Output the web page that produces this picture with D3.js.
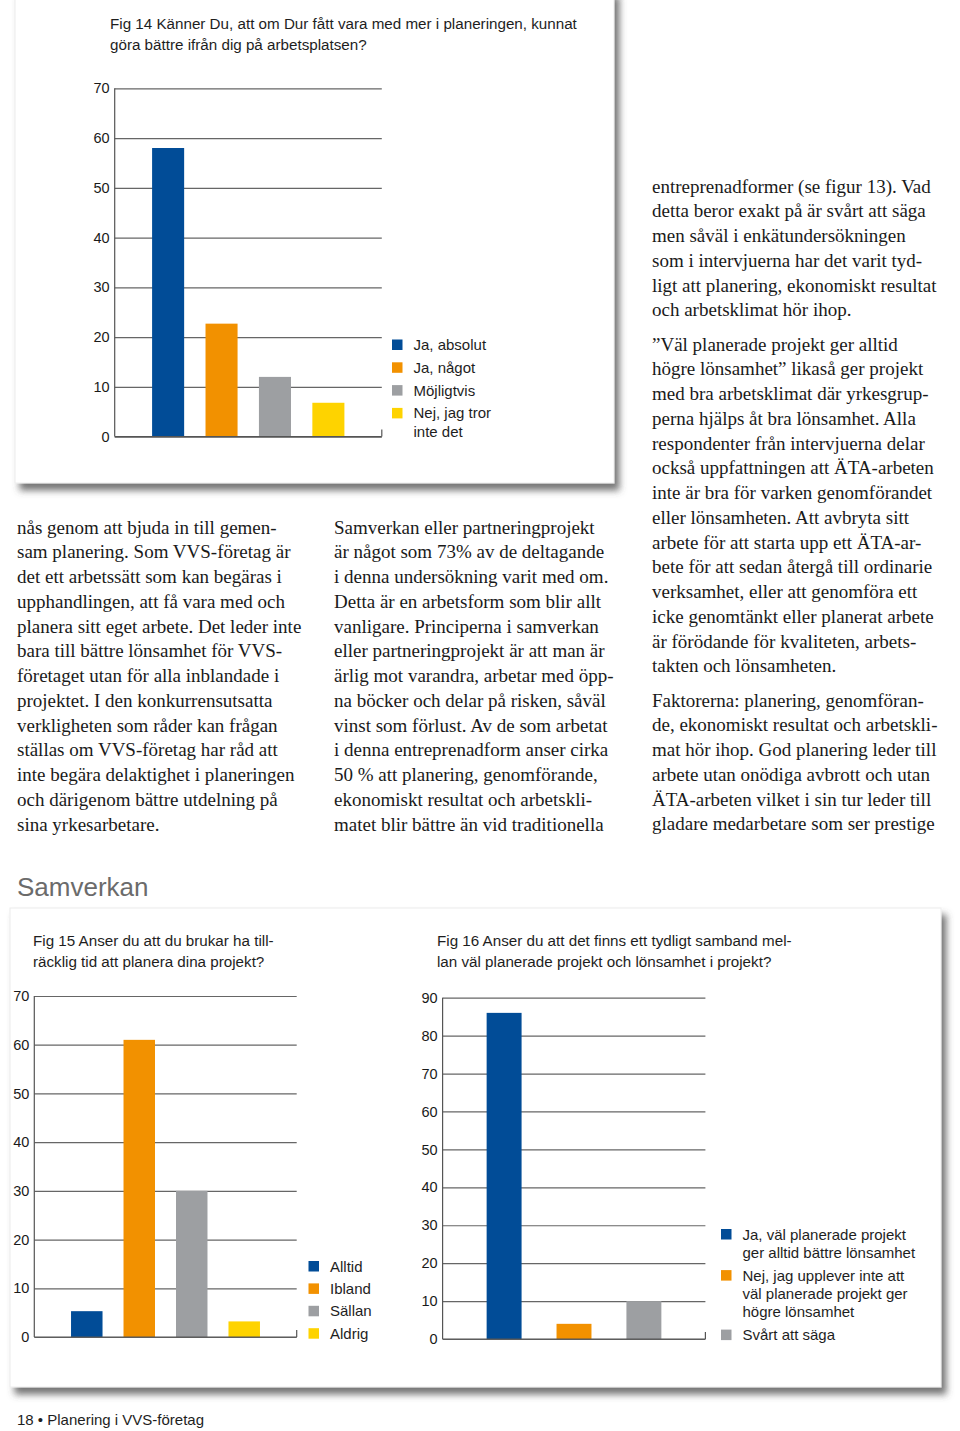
<!DOCTYPE html>
<html><head><meta charset="utf-8">
<script src="https://cdn.jsdelivr.net/npm/d3@7"></script>
<style>body{margin:0;background:#fff}svg{display:block}</style>
</head><body><svg id="page" width="960" height="1431"></svg>
<script>
// ---------- DATA ----------
const colors = ["#014c97", "#f29100", "#9d9fa2", "#fed300"];

const fig14Title = ["Fig 14 Känner Du, att om Dur fått vara med mer i planeringen, kunnat", "göra bättre ifrån dig på arbetsplatsen?"];
const fig14Categories = ["Ja, absolut", "Ja, något", "Möjligtvis", "Nej, jag tror inte det"];
const fig14Values = [58, 22.7, 12, 6.8];
const fig14Ticks = [0, 10, 20, 30, 40, 50, 60, 70];
const fig14Legend = [["Ja, absolut"], ["Ja, något"], ["Möjligtvis"], ["Nej, jag tror", "inte det"]];

const fig15Title = ["Fig 15 Anser du att du brukar ha till-", "räcklig tid att planera dina projekt?"];
const fig15Categories = ["Alltid", "Ibland", "Sällan", "Aldrig"];
const fig15Values = [5.3, 61, 30, 3.2];
const fig15Ticks = [0, 10, 20, 30, 40, 50, 60, 70];
const fig15Legend = [["Alltid"], ["Ibland"], ["Sällan"], ["Aldrig"]];

const fig16Title = ["Fig 16 Anser du att det finns ett tydligt samband mel-", "lan väl planerade projekt och lönsamhet i projekt?"];
const fig16Categories = ["Ja, väl planerade projekt ger alltid bättre lönsamhet", "Nej, jag upplever inte att väl planerade projekt ger högre lönsamhet", "Svårt att säga"];
const fig16Values = [86, 4, 10];
const fig16Ticks = [0, 10, 20, 30, 40, 50, 60, 70, 80, 90];
const fig16Legend = [["Ja, väl planerade projekt", "ger alltid bättre lönsamhet"], ["Nej, jag upplever inte att", "väl planerade projekt ger", "högre lönsamhet"], ["Svårt att säga"]];

const column1 = [[
 "nås genom att bjuda in till gemen-",
 "sam planering. Som VVS-företag är",
 "det ett arbetssätt som kan begäras i",
 "upphandlingen, att få vara med och",
 "planera sitt eget arbete. Det leder inte",
 "bara till bättre lönsamhet för VVS-",
 "företaget utan för alla inblandade i",
 "projektet. I den konkurrensutsatta",
 "verkligheten som råder kan frågan",
 "ställas om VVS-företag har råd att",
 "inte begära delaktighet i planeringen",
 "och därigenom bättre utdelning på",
 "sina yrkesarbetare."]];
const column2 = [[
 "Samverkan eller partneringprojekt",
 "är något som 73% av de deltagande",
 "i denna undersökning varit med om.",
 "Detta är en arbetsform som blir allt",
 "vanligare. Principerna i samverkan",
 "eller partneringprojekt är att man är",
 "ärlig mot varandra, arbetar med öpp-",
 "na böcker och delar på risken, såväl",
 "vinst som förlust. Av de som arbetat",
 "i denna entreprenadform anser cirka",
 "50 % att planering, genomförande,",
 "ekonomiskt resultat och arbetskli-",
 "matet blir bättre än vid traditionella"]];
const column3 = [[
 "entreprenadformer (se figur 13). Vad",
 "detta beror exakt på är svårt att säga",
 "men såväl i enkätundersökningen",
 "som i intervjuerna har det varit tyd-",
 "ligt att planering, ekonomiskt resultat",
 "och arbetsklimat hör ihop."],[
 "\u201DVäl planerade projekt ger alltid",
 "högre lönsamhet\u201D likaså ger projekt",
 "med bra arbetsklimat där yrkesgrup-",
 "perna hjälps åt bra lönsamhet. Alla",
 "respondenter från intervjuerna delar",
 "också uppfattningen att ÄTA-arbeten",
 "inte är bra för varken genomförandet",
 "eller lönsamheten. Att avbryta sitt",
 "arbete för att starta upp ett ÄTA-ar-",
 "bete för att sedan återgå till ordinarie",
 "verksamhet, eller att genomföra ett",
 "icke genomtänkt eller planerat arbete",
 "är förödande för kvaliteten, arbets-",
 "takten och lönsamheten."],[
 "Faktorerna: planering, genomföran-",
 "de, ekonomiskt resultat och arbetskli-",
 "mat hör ihop. God planering leder till",
 "arbete utan onödiga avbrott och utan",
 "ÄTA-arbeten vilket i sin tur leder till",
 "gladare medarbetare som ser prestige"]];

const sectionHeading = "Samverkan";
const footerText = "18 \u2022 Planering i VVS-företag";

// ---------- DRAW ----------
const svg = d3.select("#page");
const sans = "'Liberation Sans', Arial, sans-serif";
const serif = "'Liberation Serif', 'Times New Roman', serif";

const defs = svg.append("defs");
const f = defs.append("filter").attr("id", "shadow").attr("x", "-5%").attr("y", "-5%").attr("width", "115%").attr("height", "115%");
f.append("feDropShadow").attr("dx", 5).attr("dy", 7).attr("stdDeviation", 3.6)
  .attr("flood-color", "#4a4a4a").attr("flood-opacity", 0.75);

// panels
svg.append("rect").attr("x", 15).attr("y", -10).attr("width", 599).attr("height", 493)
  .attr("fill", "#fff").attr("stroke", "#ececec").attr("filter", "url(#shadow)");
svg.append("rect").attr("x", 10).attr("y", 908).attr("width", 931).attr("height", 479)
  .attr("fill", "#fff").attr("stroke", "#ececec").attr("filter", "url(#shadow)");

function drawChart(cfg) {
  const g = svg.append("g");
  // title
  cfg.title.forEach((t, i) => {
    g.append("text").attr("x", cfg.titleX).attr("y", cfg.titleY + i * 21)
      .attr("font-family", sans).attr("font-size", 15.2).attr("fill", "#1e1e1e").text(t);
  });
  const y = d3.scaleLinear().domain([0, cfg.max]).range([cfg.yBottom, cfg.yTop]);
  const x = d3.scaleBand().domain(cfg.categories).range([cfg.x0, cfg.x1])
    .paddingInner(cfg.pi).paddingOuter(cfg.po);
  const axis = d3.axisLeft(y).tickValues(cfg.ticks).tickSize(-(cfg.x1 - cfg.x0)).tickPadding(5).tickFormat(d3.format("d"));
  const ag = g.append("g").attr("transform", `translate(${cfg.x0},0)`).call(axis);
  ag.select(".domain").remove();
  ag.selectAll(".tick line").attr("stroke", "#666").attr("stroke-width", 1.2);
  ag.selectAll(".tick text").attr("font-family", sans).attr("font-size", 14.5).attr("fill", "#1a1a1a");
  // left axis line and right end tick
  g.append("line").attr("x1", cfg.x0).attr("x2", cfg.x0).attr("y1", y(cfg.max)).attr("y2", y(0))
    .attr("stroke", "#555").attr("stroke-width", 1.2);
  g.append("line").attr("x1", cfg.x1).attr("x2", cfg.x1).attr("y1", y(0) - 7).attr("y2", y(0))
    .attr("stroke", "#555").attr("stroke-width", 1.2);
  // bars
  g.selectAll("rect.bar").data(cfg.values).join("rect").attr("class", "bar")
    .attr("x", (d, i) => x(cfg.categories[i])).attr("width", x.bandwidth())
    .attr("y", d => y(d)).attr("height", d => y(0) - y(d))
    .attr("fill", (d, i) => colors[i]);
  // bottom axis line on top
  g.append("line").attr("x1", cfg.x0).attr("x2", cfg.x1).attr("y1", y(0)).attr("y2", y(0))
    .attr("stroke", "#555").attr("stroke-width", 1.2);
  // legend
  let top = cfg.legendTop;
  cfg.legend.forEach((lines, i) => {
    g.append("rect").attr("x", cfg.legendX).attr("y", top).attr("width", 10.5).attr("height", 10.5).attr("fill", colors[i]);
    lines.forEach((t, j) => {
      g.append("text").attr("x", cfg.legendX + 21.5).attr("y", top + 10.5 + j * cfg.lineGap)
        .attr("font-family", sans).attr("font-size", 15).attr("fill", "#1e1e1e").text(t);
    });
    top += (lines.length - 1) * cfg.lineGap + cfg.entryGap;
  });
}

drawChart({title: fig14Title, titleX: 110, titleY: 29, categories: fig14Categories, values: fig14Values,
  ticks: fig14Ticks, max: 70, x0: 114.7, x1: 381.8, yTop: 88.3, yBottom: 436.6, pi: 0.4, po: 0.7,
  legend: fig14Legend, legendX: 392, legendTop: 339.5, entryGap: 22.8, lineGap: 18.5});
drawChart({title: fig15Title, titleX: 33, titleY: 945.5, categories: fig15Categories, values: fig15Values,
  ticks: fig15Ticks, max: 70, x0: 34.3, x1: 296.7, yTop: 996, yBottom: 1337, pi: 0.4, po: 0.7,
  legend: fig15Legend, legendX: 308.5, legendTop: 1261, entryGap: 22.4, lineGap: 18.5});
drawChart({title: fig16Title, titleX: 437, titleY: 945.5, categories: fig16Categories, values: fig16Values,
  ticks: fig16Ticks, max: 90, x0: 442.6, x1: 705.4, yTop: 997.7, yBottom: 1339, pi: 0.5, po: 0.63,
  legend: fig16Legend, legendX: 721, legendTop: 1229, entryGap: 22.7, lineGap: 18.4});

// body text columns
function drawColumn(paras, x, firstBaseline) {
  let yy = firstBaseline;
  paras.forEach((lines, pi) => {
    lines.forEach(t => {
      svg.append("text").attr("x", x).attr("y", yy).attr("font-family", serif)
        .attr("font-size", 19).attr("fill", "#1a1a1a").text(t);
      yy += 24.75;
    });
    yy += 9.6;
  });
}
drawColumn(column1, 17, 533.5);
drawColumn(column2, 334, 533.5);
drawColumn(column3, 652, 192.5);

svg.append("text").attr("x", 17).attr("y", 896).attr("font-family", sans).attr("font-size", 26)
  .attr("fill", "#6b6b6b").text(sectionHeading);
svg.append("text").attr("x", 17).attr("y", 1425).attr("font-family", sans).attr("font-size", 15)
  .attr("fill", "#1e1e1e").text(footerText);
</script></body></html>
